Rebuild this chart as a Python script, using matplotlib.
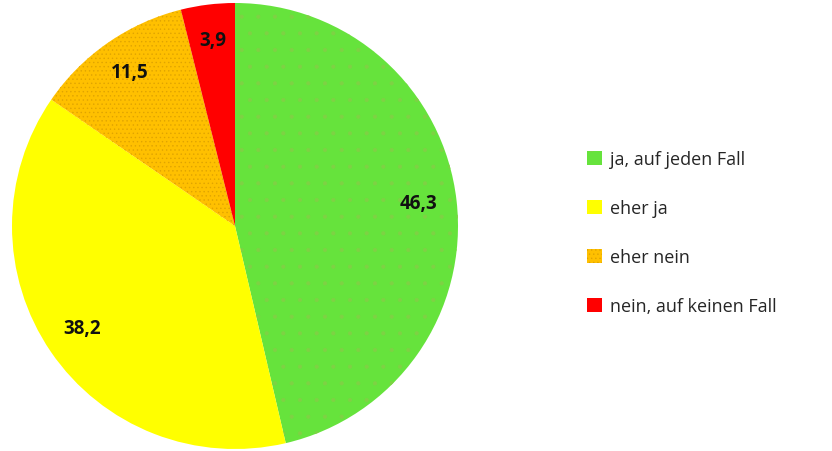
import numpy as np
import matplotlib.pyplot as plt
from matplotlib.patches import Patch

# Antwortanteile in Prozent
categories = ['ja, auf jeden Fall', 'eher ja', 'eher nein', 'nein, auf keinen Fall']
values = [46.3, 38.2, 11.5, 3.9]
colors = ['#66E33C', '#FFFF00', '#FFC000', '#FF0000']
hatches = ['.', '', '....', '']
hatch_colors = ['#7ED244', '#FFFF00', '#E0A400', '#FF0000']

plt.rcParams['font.family'] = ['Open Sans', 'DejaVu Sans']
plt.rcParams['hatch.linewidth'] = 0.5

fig = plt.figure(figsize=(8.32, 4.52), dpi=100)
ax = fig.add_axes([12 / 832, 2 / 452, 446 / 832, 446 / 452])

wedges, _ = ax.pie(values, colors=colors, startangle=90, counterclock=False,
                   radius=1, wedgeprops=dict(linewidth=0))
ax.set_xlim(-1, 1)
ax.set_ylim(-1, 1)
ax.set_aspect('equal')

# Punktraster auf den Segmenten
for w, h, hc in zip(wedges, hatches, hatch_colors):
    if h:
        w.set_hatch(h)
        w.set_edgecolor(hc)
        w.set_linewidth(0)

# Werte im Segment, mit Komma als Dezimaltrenner
for w, v in zip(wedges, values):
    ang = np.deg2rad((w.theta1 + w.theta2) / 2)
    r = 0.83
    ax.text(r * np.cos(ang), r * np.sin(ang) + 0.01, f'{v:.1f}'.replace('.', ','),
            ha='center', va='center', fontsize=13.5, fontweight='bold', color='#111111')

handles = [Patch(facecolor=c, edgecolor=hc if h else c, hatch=h, linewidth=0)
           for c, h, hc in zip(colors, hatches, hatch_colors)]
fig.legend(handles, categories, loc='upper left', bbox_to_anchor=(571 / 832, 1 - 135 / 452),
           frameon=False, fontsize=13, labelspacing=1.72, handlelength=0.8, handleheight=0.8,
           handletextpad=0.45, labelcolor='#262626')

fig.savefig('out.png', dpi=100)
